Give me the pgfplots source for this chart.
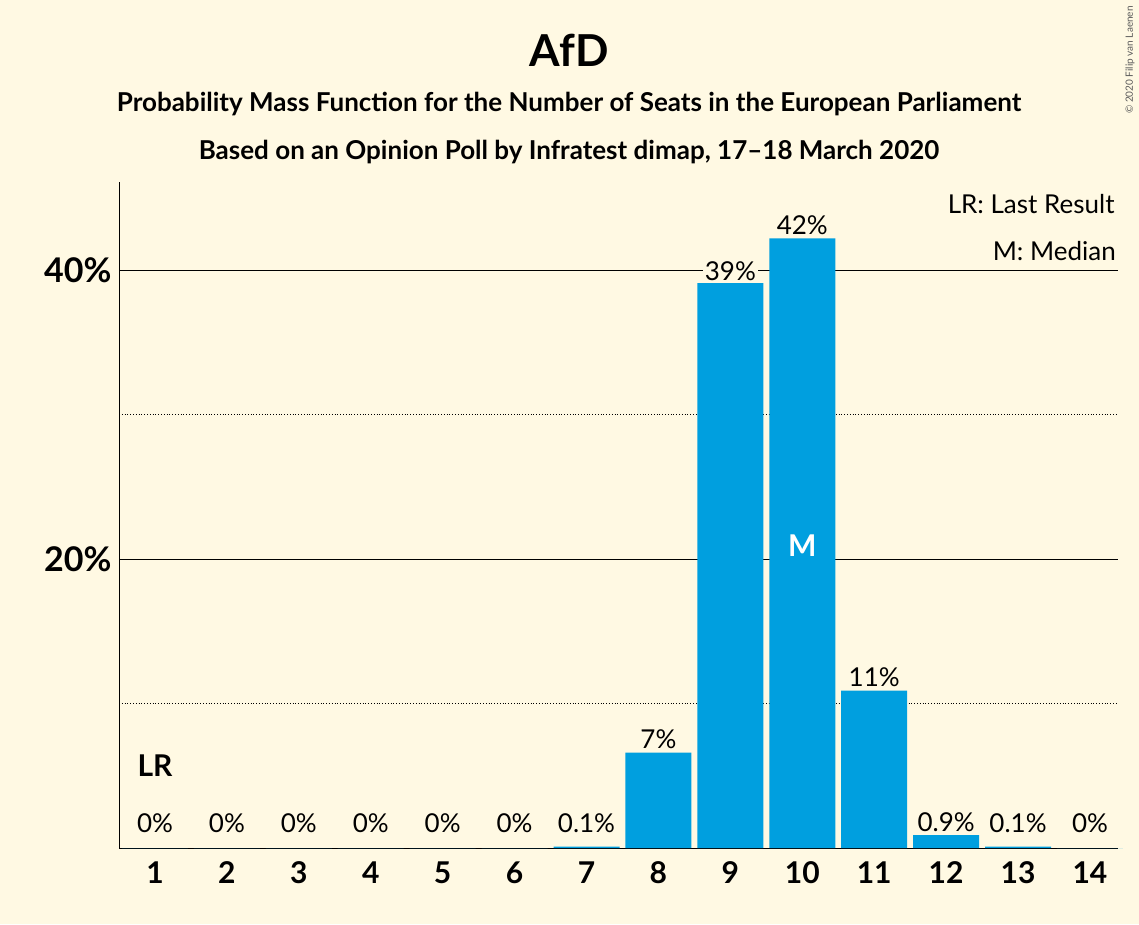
\documentclass[border=0pt]{standalone}
\usepackage{pgfplots}
\pgfplotsset{compat=1.18}
\usepackage{fontspec}
\setmainfont{Lato}
\definecolor{bg}{HTML}{FFF9E3}
\definecolor{bar}{HTML}{009FDF}
\begin{document}
\begin{tikzpicture}
\fill[bg] (0pt,0pt) rectangle (1139pt,924pt);
\useasboundingbox (0pt,0pt) rectangle (1139pt,924pt);
\node[font=\bfseries\fontsize{44}{48}\selectfont] at (569pt,874pt) {AfD};
\node[font=\bfseries\fontsize{26}{30}\selectfont] at (569pt,820pt) {Probability Mass Function for the Number of Seats in the European Parliament};
\node[font=\bfseries\fontsize{26}{30}\selectfont] at (569pt,772pt) {Based on an Opinion Poll by Infratest dimap, 17–18 March 2020};
\node[rotate=90,font=\fontsize{10}{12}\selectfont,gray!70!black] at (1130pt,864pt) {© 2020 Filip van Laenen};
\begin{axis}[at={(119pt,76pt)},anchor=south west,scale only axis,width=999pt,height=666pt,
 xmin=0.5,xmax=14.39,ymin=0,ymax=46.1,
 axis x line=bottom, axis y line=left, axis line style={-,thick},
 xtick={1,...,14}, ytick={20,40}, yticklabels={20\%,40\%},
 major tick length=0pt,
 ymajorgrids, major grid style={black,thick},
 extra y ticks={10,30}, extra y tick labels={}, extra y tick style={grid=major, major grid style={black,dotted,thick}},
 /pgf/number format/assume math mode=true,
 xticklabel style={font=\bfseries\fontsize{30}{34}\selectfont, yshift=-10pt},
 yticklabel style={font=\bfseries\fontsize{34}{38}\selectfont, xshift=-4pt},
 clip=false]
\addplot[ybar, bar width=66pt, fill=bar, draw=none] coordinates {(1,0)(2,0)(3,0)(4,0)(5,0)(6,0)(7,0.1)(8,6.6)(9,39.1)(10,42.2)(11,10.9)(12,0.9)(13,0.1)(14,0)};
\pgfplotsinvokeforeach{1,2,3,4,5,6,14}{\node[font=\fontsize{26}{30}\selectfont] at (axis cs:#1,1.7) {0\%};}
\node[font=\fontsize{26}{30}\selectfont] at (axis cs:7,1.7) {0.1\%};
\node[font=\fontsize{26}{30}\selectfont] at (axis cs:13,1.7) {0.1\%};
\node[font=\fontsize{26}{30}\selectfont,anchor=south] at (axis cs:8,6.6) {7\%};
\node[font=\fontsize{26}{30}\selectfont,anchor=south,fill=bg,inner sep=2pt] at (axis cs:9,39.1) {39\%};
\node[font=\fontsize{26}{30}\selectfont,anchor=south] at (axis cs:10,42.2) {42\%};
\node[font=\fontsize{26}{30}\selectfont,anchor=south] at (axis cs:11,10.9) {11\%};
\node[font=\fontsize{26}{30}\selectfont,anchor=south] at (axis cs:12,0.9) {0.9\%};
\node[font=\bfseries\fontsize{30}{34}\selectfont,white] at (axis cs:10,20.9) {M};
\node[font=\bfseries\fontsize{30}{34}\selectfont] at (axis cs:1,5.7) {LR};
\node[font=\fontsize{26}{30}\selectfont,anchor=east] at (axis cs:14.39,44.6) {LR: Last Result};
\node[font=\fontsize{26}{30}\selectfont,anchor=east,fill=bg,inner sep=2pt] at (axis cs:14.39,41.3) {M: Median};
\end{axis}
\end{tikzpicture}
\end{document}
